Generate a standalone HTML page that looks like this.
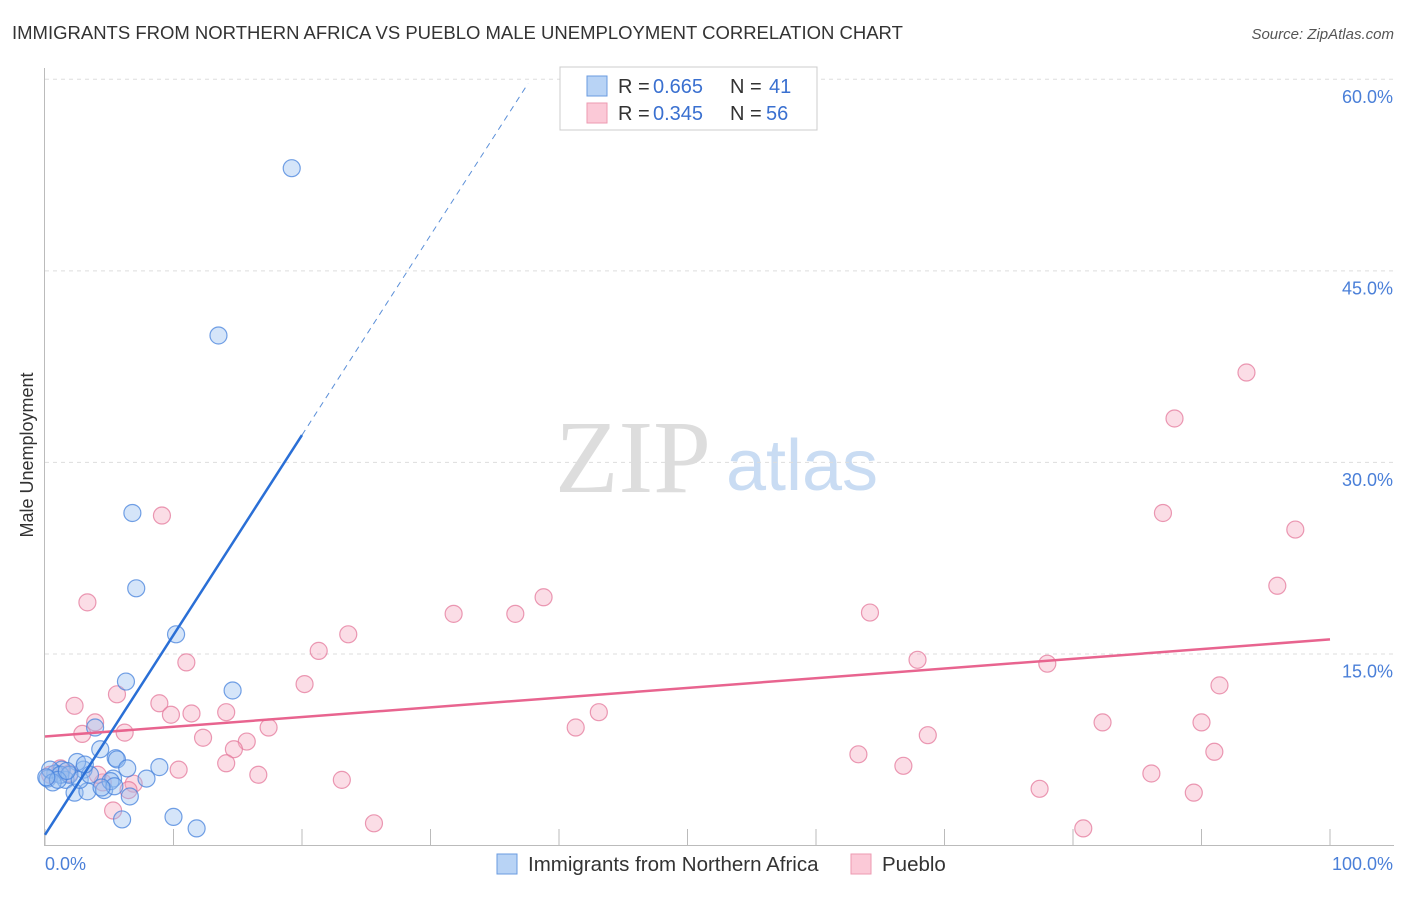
<!DOCTYPE html>
<html><head><meta charset="utf-8"><style>
body{margin:0;background:#fff;font-family:"Liberation Sans",sans-serif}
svg text{font-family:"Liberation Sans",sans-serif}
</style></head><body>
<svg id="c" width="1406" height="892">
<text x="12" y="39" font-size="18.5" fill="#333">IMMIGRANTS FROM NORTHERN AFRICA VS PUEBLO MALE UNEMPLOYMENT CORRELATION CHART</text>
<text x="1394" y="39" font-size="15" fill="#555" font-style="italic" text-anchor="end">Source: ZipAtlas.com</text>
<text x="33" y="455" font-size="18" fill="#333" text-anchor="middle" transform="rotate(-90 33 455)">Male Unemployment</text>
<g><text x="633" y="492" font-size="104" fill="#ddd" text-anchor="middle" style="font-family:'Liberation Serif',serif">ZIP</text><text x="802" y="490" font-size="72" fill="#c9dcf3" text-anchor="middle">atlas</text></g>
<g id="grid"></g><g id="marks"></g>
<g>
<rect x="560" y="67" width="257" height="63" fill="#fff" stroke="#ccc"/>
<rect x="587" y="76" width="20" height="20" fill="#b8d3f5" stroke="#6a9be0"/>
<rect x="587" y="103" width="20" height="20" fill="#fbc9d7" stroke="#ec9ab2"/>
<text x="618" y="93" font-size="20" fill="#333">R =</text><text x="653" y="93" font-size="20" fill="#3a70d0">0.665</text>
<text x="730" y="93" font-size="20" fill="#333">N =</text><text x="769" y="93" font-size="20" fill="#3a70d0">41</text>
<text x="618" y="120" font-size="20" fill="#333">R =</text><text x="653" y="120" font-size="20" fill="#3a70d0">0.345</text>
<text x="730" y="120" font-size="20" fill="#333">N =</text><text x="766" y="120" font-size="20" fill="#3a70d0">56</text>
</g>
<g>
<rect x="497" y="854" width="20" height="20" fill="#b8d3f5" stroke="#6a9be0"/>
<text x="528" y="871" font-size="20.5" fill="#333">Immigrants from Northern Africa</text>
<rect x="851" y="854" width="20" height="20" fill="#fbc9d7" stroke="#ec9ab2"/>
<text x="882" y="871" font-size="20.5" fill="#333">Pueblo</text>
</g>
</svg>
<script>
const yTicks=[15,30,45,60];
const yTickLabels=["15.0%","30.0%","45.0%","60.0%"];
const xTicks=[0,10,20,30,40,50,60,70,80,90,100];
const blueX=[19.2,13.5,6.8,7.1,10.2,6.3,14.6,3.9,4.3,5.5,5.6,6.4,8.9,7.9,5.3,3.0,2.5,1.3,0.8,0.2,0.4,1.6,2.3,3.3,4.6,6.6,6.0,10.0,11.8,1.2,1.9,2.7,3.5,0.6,1.0,1.7,5.1,5.4,4.4,0.1,3.1];
const blueY=[53.0,39.9,26.0,20.1,16.5,12.8,12.1,9.2,7.5,6.8,6.7,6.0,6.1,5.2,5.2,5.9,6.5,5.9,5.6,5.2,5.9,5.1,4.1,4.2,4.3,3.8,2.0,2.2,1.3,5.5,5.5,5.1,5.5,4.9,5.1,5.8,5.0,4.6,4.5,5.3,6.3];
const pinkX=[93.5,87.9,87.0,97.3,95.9,9.1,3.3,38.8,31.8,36.6,64.2,23.6,21.3,11.0,67.9,78.0,20.2,5.6,91.4,2.3,8.9,9.8,11.4,14.1,43.1,3.9,82.3,90.0,17.4,41.3,2.9,6.2,12.3,68.7,15.7,14.7,63.3,91.0,14.1,66.8,10.4,16.6,86.1,23.1,6.9,77.4,89.4,4.5,5.3,25.6,80.8,1.2,0.4,1.9,4.1,6.5];
const pinkY=[37.0,33.4,26.0,24.7,20.3,25.8,19.0,19.4,18.1,18.1,18.2,16.5,15.2,14.3,14.5,14.2,12.6,11.8,12.5,10.9,11.1,10.2,10.3,10.4,10.4,9.6,9.6,9.6,9.2,9.2,8.7,8.8,8.4,8.6,8.1,7.5,7.1,7.3,6.4,6.2,5.9,5.5,5.6,5.1,4.8,4.4,4.1,4.9,2.7,1.7,1.3,6.0,5.5,5.6,5.5,4.3];
const blueTrend=[0.8,1.565];
const pinkTrend=[8.5,0.076];
const X=v=>45+v*12.85, Y=v=>845-v*12.77;
const NS="http://www.w3.org/2000/svg";
function mk(t,a,p){const e=document.createElementNS(NS,t);for(const k in a)e.setAttribute(k,a[k]);p.appendChild(e);return e;}
const g=document.getElementById('grid'), m=document.getElementById('marks');
yTicks.forEach((t,i)=>{
 const l=mk('line',{x1:45,x2:1394,y1:Y(t)+0.5,y2:Y(t)+0.5,stroke:'#ddd','stroke-dasharray':'4,4'},g);
 
 
 const tx=mk('text',{x:1393,y:Y(t)+24,'font-size':18,fill:'#4a7fd8','text-anchor':'end'},g);
 tx.textContent=yTickLabels[i];
 
 
});
mk('line',{x1:44.5,x2:44.5,y1:68,y2:845,stroke:'#bbb'},g);
mk('line',{x1:44,x2:1394,y1:845.5,y2:845.5,stroke:'#bbb'},g);
xTicks.forEach(t=>{const l=mk('line',{x1:X(t),x2:X(t),y1:829,y2:845,stroke:'#bbb'},g);
 
 });
let a=mk('text',{x:45,y:870,'font-size':18,fill:'#4a7fd8'},g);a.textContent='0.0%';


a=mk('text',{x:1393,y:870,'font-size':18,fill:'#4a7fd8','text-anchor':'end'},g);a.textContent='100.0%';


pinkX.forEach((x,i)=>{const c=mk('circle',{cx:X(x),cy:Y(pinkY[i]),r:8.5,fill:'rgba(245,170,192,0.4)',stroke:'rgba(228,120,155,0.75)','stroke-width':1.2},m);
 
 });
blueX.forEach((x,i)=>{const c=mk('circle',{cx:X(x),cy:Y(blueY[i]),r:8.5,fill:'rgba(150,190,240,0.4)',stroke:'rgba(70,130,220,0.75)','stroke-width':1.2},m);
 
 });
let t=mk('line',{x1:X(0),y1:Y(pinkTrend[0]),x2:X(100),y2:Y(pinkTrend[0]+100*pinkTrend[1]),stroke:'#e8648f','stroke-width':2.5},m);


t=mk('line',{x1:X(0),y1:Y(blueTrend[0]),x2:X(20),y2:Y(blueTrend[0]+20*blueTrend[1]),stroke:'#2a6fd6','stroke-width':2.5},m);


t=mk('line',{x1:X(20),y1:Y(blueTrend[0]+20*blueTrend[1]),x2:X(37.6),y2:Y(blueTrend[0]+37.6*blueTrend[1]),stroke:'#5b8fd8','stroke-width':1,'stroke-dasharray':'6,5'},m);


</script>
</body></html>
